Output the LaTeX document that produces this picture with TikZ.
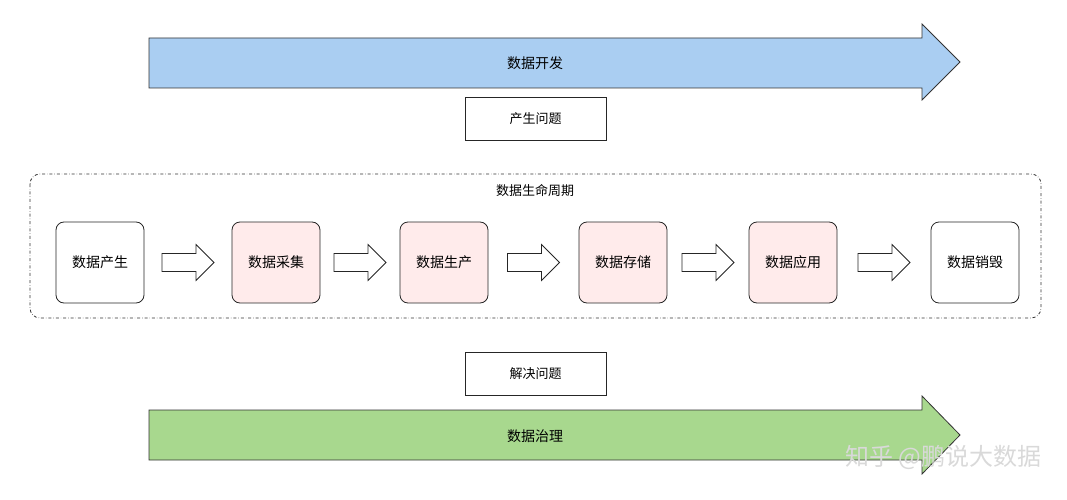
\documentclass[tikz,border=0pt]{standalone}
\usepackage{fontspec}
\setmainfont{Noto Sans CJK SC}
\begin{document}
\begin{tikzpicture}[x=1pt,y=-1pt,
  box/.style={draw=black!85,line width=0.8pt,rounded corners=8pt,minimum width=88pt,minimum height=81pt,font=\fontsize{14}{16}\selectfont},
  pink/.style={box,fill=red!8},
  lbl/.style={draw=black!85,line width=0.8pt,minimum width=141pt,minimum height=43pt,font=\fontsize{13}{15}\selectfont},
  hollow/.style={draw=black!85,line width=0.8pt,fill=white}]
\useasboundingbox (0,0) rectangle (1067,500);
% top arrow
\draw[fill={rgb,255:red,170;green,206;blue,242},draw=black!80,line width=0.8pt]
 (149,38)--(922,38)--(922,24)--(960,62)--(922,100)--(922,88)--(149,88)--cycle;
\node[font=\fontsize{14}{16}\selectfont] (dev) at (535,63) {数据开发};
\node[lbl] (p1) at (535.5,118.5) {产生问题};
% life cycle
\draw[dash dot,line width=0.8pt,draw=black!80,rounded corners=10pt] (30,174) rectangle (1041,318);
\node[font=\fontsize{13}{15}\selectfont] (lc) at (535,191) {数据生命周期};
\node[box] (n1) at (100,262.5) {数据产生};
\node[pink] (n2) at (276,262.5) {数据采集};
\node[pink] (n3) at (444,262.5) {数据生产};
\node[pink] (n4) at (623,262.5) {数据存储};
\node[pink] (n5) at (793,262.5) {数据应用};
\node[box] (n6) at (975,262.5) {数据销毁};
\foreach \a/\b in {n1/n2,n2/n3,n3/n4,n4/n5,n5/n6}{
  \path (\a.east) -- (\b.west) coordinate[pos=0.5] (m);
  \draw[hollow] ([xshift=-26pt,yshift=-9pt]m) -- ([xshift=8pt,yshift=-9pt]m) -- ([xshift=8pt,yshift=-18pt]m)
   -- ([xshift=26pt]m) -- ([xshift=8pt,yshift=18pt]m) -- ([xshift=8pt,yshift=9pt]m) -- ([xshift=-26pt,yshift=9pt]m) -- cycle;
}
\node[lbl] (p2) at (535.5,373.5) {解决问题};
% bottom arrow
\draw[fill={rgb,255:red,168;green,216;blue,142},draw=black!80,line width=0.8pt]
 (149,410)--(922,410)--(922,396)--(960,435)--(922,474)--(922,460)--(149,460)--cycle;
\node[font=\fontsize{14}{16}\selectfont] (gov) at (535,436) {数据治理};
\node[font=\fontsize{24}{28}\selectfont,text=black!15,anchor=east] (wm) at (1045,457) {知乎 @鹏说大数据};
\end{tikzpicture}
\end{document}
